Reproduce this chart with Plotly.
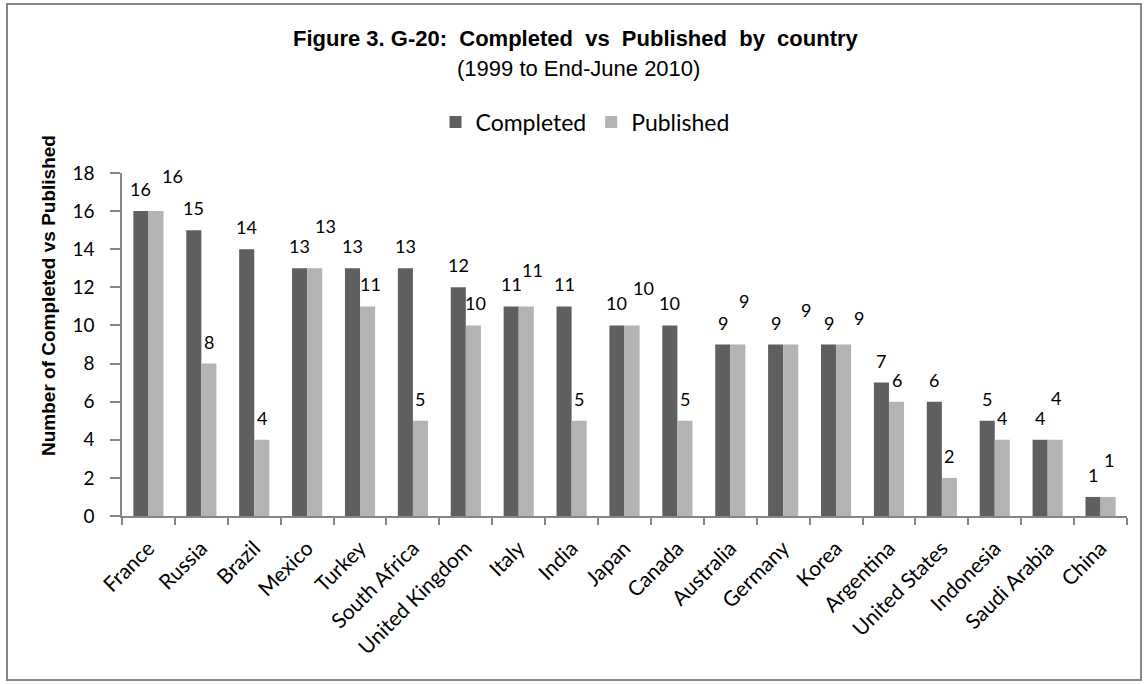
import plotly.graph_objects as go

countries = ["France", "Russia", "Brazil", "Mexico", "Turkey", "South Africa",
             "United Kingdom", "Italy", "India", "Japan", "Canada", "Australia",
             "Germany", "Korea", "Argentina", "United States", "Indonesia",
             "Saudi Arabia", "China"]
completed = [16, 15, 14, 13, 13, 13, 12, 11, 11, 10, 10, 9, 9, 9, 7, 6, 5, 4, 1]
published = [16, 8, 4, 13, 11, 5, 10, 11, 5, 10, 5, 9, 9, 9, 6, 2, 4, 4, 1]
y_ticks = [0, 2, 4, 6, 8, 10, 12, 14, 16, 18]

# label nudges (pixels) for Published labels that collide with Completed labels
pub_dx = [17, 0, 0, 11, 3, 0, 2, 6, 0, 11, 0, 6, 15, 15, 0, 0, 0, 1, 1]
pub_dy = [13, 0, 0, 20, 0, 0, 0, 14, 0, 15, 0, 22, 13, 5, 0, 0, 0, 20, 15]

DARK = "#5f5f5f"
LIGHT = "#b3b3b3"
AXIS = "#868686"
LBL_FONT = "Lato"
W, H = 1148, 684
L, R, T, B = 122, 21, 173, 168
PW, PH = W - L - R, H - T - B
BARGAP = 0.43

def px(xpix):
    return (xpix - L) / PW

def py(ypix):
    return (H - B - ypix) / PH

fig = go.Figure()
fig.add_trace(go.Bar(x=countries, y=completed, name="Completed",
                     marker=dict(color=DARK, line=dict(width=0))))
fig.add_trace(go.Bar(x=countries, y=published, name="Published",
                     marker=dict(color=LIGHT, line=dict(width=0))))

off = (1 - BARGAP) / 4
ann = []
for i, (c, p) in enumerate(zip(completed, published)):
    ann.append(dict(x=i - off, y=c, xref="x", yref="y", text=str(c), showarrow=False,
                    yanchor="middle", xanchor="center", yshift=22,
                    font=dict(family=LBL_FONT, size=18, color="black")))
    ann.append(dict(x=i + off, y=p, xref="x", yref="y", text=str(p), showarrow=False,
                    yanchor="middle", xanchor="center", yshift=22 + pub_dy[i],
                    xshift=pub_dx[i],
                    font=dict(family=LBL_FONT, size=18, color="black")))

ann.append(dict(x=px(576), y=py(38), xref="paper", yref="paper", showarrow=False,
                text="<b>Figure 3. G-20:  Completed  vs  Published  by  country</b>",
                xanchor="center", yanchor="middle",
                font=dict(family="Liberation Sans", size=22, color="black")))
ann.append(dict(x=px(578), y=py(68), xref="paper", yref="paper", showarrow=False,
                text="(1999 to End-June 2010)",
                xanchor="center", yanchor="middle",
                font=dict(family="Liberation Sans", size=22, color="black")))
ann.append(dict(x=px(48), y=py(296), xref="paper", yref="paper", showarrow=False,
                text="<b>Number of Completed vs Published</b>", textangle=-90,
                xanchor="center", yanchor="middle",
                font=dict(family="Liberation Sans", size=19, color="black")))

fig.update_layout(
    width=W, height=H,
    margin=dict(l=L, r=R, t=T, b=B, pad=0),
    paper_bgcolor="white", plot_bgcolor="white",
    barmode="group", bargap=BARGAP, bargroupgap=0,
    showlegend=True,
    legend=dict(orientation="h", x=px(585), y=py(122), xanchor="center", yanchor="middle",
                font=dict(family=LBL_FONT, size=23, color="black"),
                itemwidth=30, traceorder="normal"),
    annotations=ann,
    shapes=[dict(type="rect", xref="paper", yref="paper",
                 x0=px(7), x1=px(1141), y0=py(680), y1=py(4),
                 line=dict(color=AXIS, width=2), fillcolor="rgba(0,0,0,0)")],
    xaxis=dict(type="category", tickangle=-45, tickson="boundaries",
               ticks="outside", ticklen=7, tickcolor=AXIS, tickwidth=1.5,
               showline=True, linecolor=AXIS, linewidth=1.5,
               showgrid=False, zeroline=False, ticklabelstandoff=10,
               tickfont=dict(family=LBL_FONT, size=21, color="black")),
    yaxis=dict(range=[0, 18], tickvals=y_ticks, ticktext=[str(v) for v in y_ticks],
               ticks="outside", ticklen=10, tickcolor=AXIS, tickwidth=1.5,
               showline=True, linecolor=AXIS, linewidth=1.5,
               showgrid=False, zeroline=False, ticklabelstandoff=12,
               tickfont=dict(family=LBL_FONT, size=19, color="black")),
)

fig.write_html("out.html")
